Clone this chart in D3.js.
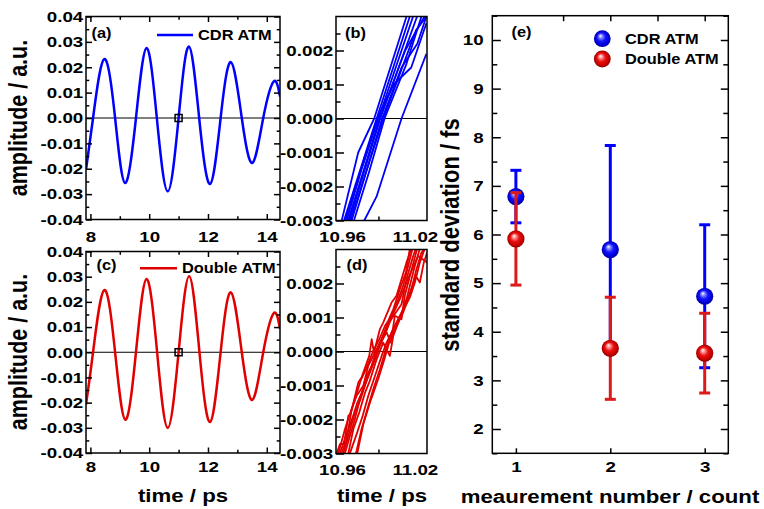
<!DOCTYPE html>
<html>
<head>
  <meta charset="utf-8">
  <title>ATM timing stability</title>
  <script src="https://d3js.org/d3.v7.min.js"></script>
  <style>
    body { margin: 0; background: #fff; }
    svg text { font-family: "Liberation Sans", Arial, sans-serif; font-weight: bold; fill: #000; }
  </style>
</head>
<body>
  <div id="chart"></div>
  <script>
    // ---- values ----
    // (a) CDR ATM waveform: [time / ps, amplitude]
    const cdrWave = [[7.85,-0.0204],[8.09,0],[8.47,0.0232],[8.84,0],[9.18,-0.0256],[9.55,0],[9.91,0.0276],
      [10.26,0],[10.63,-0.0289],[11.0,0],[11.35,0.0282],[11.70,0],[12.07,-0.026],[12.43,0],[12.78,0.022],
      [13.15,0],[13.51,-0.0177],[13.88,0],[14.24,0.0144],[14.45,0.0085]];
    // (c) Double ATM waveform
    const dblWave = [[7.85,-0.0208],[8.09,0],[8.47,0.0247],[8.84,0],[9.19,-0.0268],[9.55,0],[9.91,0.0291],
      [10.27,0],[10.63,-0.030],[11.0,0],[11.36,0.0302],[11.71,0],[12.07,-0.0277],[12.43,0],[12.78,0.0238],
      [13.15,0],[13.51,-0.0189],[13.88,0],[14.24,0.0155],[14.45,0.0093]];

    // (b) zoom on the zero crossing, CDR ATM, one array per shot
    const cdrZoom = [
      [[10.9597,-0.0030],[10.9733,-0.0010],[10.9865,0],[11.0131,0.0030]],
      [[10.9616,-0.0030],[10.9885,0],[11.0158,0.0030]],
      [[10.9638,-0.0030],[10.9760,-0.0015],[10.9900,0],[11.0185,0.0030]],
      [[10.9660,-0.0030],[10.9915,0],[11.0218,0.0030]],
      [[10.9679,-0.0030],[10.9930,0],[11.0090,0.0015],[11.0220,0.0022],[11.0295,0.0030]],
      [[10.9698,-0.0030],[10.9820,-0.0016],[10.9950,0],[11.0130,0.0016],[11.0254,0.0030]],
      [[10.9625,-0.0030],[10.9890,0],[11.0025,0.0010],[11.0170,0.0015],[11.0295,0.0028]],
      [[10.9650,-0.0030],[10.9910,0],[11.0120,0.0020],[11.0295,0.0031]],
      [[10.9670,-0.0030],[10.9940,0],[11.0210,0.0026],[11.0295,0.0030]],
      [[10.9783,-0.0030],[10.9884,-0.0023],[11.0090,0],[11.0295,0.0019]]
    ];

    // (d) zoom on the zero crossing, Double ATM
    const dblZoom = [
      [[10.9556,-0.00299],[10.9583,-0.00272],[10.9616,-0.00272],[10.9652,-0.00189],[10.9671,-0.00184],[10.9734,-0.00091],
       [10.9761,-0.00076],[10.9824,-0.00013],[10.9844,0.00036],[10.9863,-0.00003],[10.9912,0.00066],[10.9939,0.00085],
       [11.0008,0.00144],[11.0049,0.00164],[11.0131,0.00262],[11.0172,0.00303]],
      [[10.9570,-0.00299],[10.9624,-0.00228],[10.9660,-0.00189],[10.9707,-0.00140],[10.9753,-0.00086],[10.9797,-0.00052],
       [10.9857,0.00002],[10.9907,0.00036],[10.9953,0.00075],[10.9980,0.00090],[11.0022,0.00124],[11.0076,0.00183],
       [11.0126,0.00232],[11.0159,0.00303]],
      [[10.9597,-0.00299],[10.9638,-0.00258],[10.9679,-0.00170],[10.9720,-0.00130],[10.9775,-0.00101],[10.9816,-0.00042],
       [10.9885,0.00007],[10.9939,0.00046],[10.9988,0.00085],[11.0035,0.00110],[11.0090,0.00139],[11.0131,0.00213],
       [11.0186,0.00281],[11.0208,0.00303]],
      [[10.9624,-0.00299],[10.9665,-0.00248],[10.9698,-0.00209],[10.9748,-0.00140],[10.9802,-0.00072],[10.9844,-0.00042],
       [10.9912,0.00026],[10.9967,0.00056],[11.0002,0.00026],[11.0035,0.00105],[11.0090,0.00095],[11.0117,0.00164],
       [11.0159,0.00222],[11.0219,0.00303]],
      [[10.9652,-0.00299],[10.9693,-0.00228],[10.9742,-0.00179],[10.9789,-0.00121],[10.9824,-0.00091],[10.9885,-0.00023],
       [10.9939,0.00026],[10.9994,-0.00013],[11.0022,0.00046],[11.0063,0.00085],[11.0131,0.00154],[11.0200,0.00252],
       [11.0241,0.00303]],
      [[10.9665,-0.00299],[10.9720,-0.00243],[10.9770,-0.00189],[10.9816,-0.00130],[10.9871,-0.00072],[10.9926,-0.00013],
       [10.9967,0.00026],[11.0022,0.00066],[11.0076,0.00105],[11.0117,0.00134],[11.0172,0.00183],[11.0213,0.00242],
       [11.0254,0.00291],[11.0282,0.00303]],
      [[10.9715,-0.00299],[10.9761,-0.00228],[10.9808,-0.00170],[10.9857,-0.00111],[10.9912,-0.00052],[10.9953,-0.00003],
       [11.0008,0.00056],[11.0063,0.00095],[11.0109,0.00124],[11.0159,0.00159],[11.0200,0.00203],[11.0241,0.00262],
       [11.0282,0.00303]],
      [[10.9726,-0.00299],[10.9775,-0.00214],[10.9830,-0.00150],[10.9898,-0.00081],[10.9945,-0.00027],[10.9988,0.00026],
       [11.0049,0.00075],[11.0104,0.00115],[11.0159,0.00173],[11.0208,0.00222],[11.0241,0.00203],[11.0274,0.00262],
       [11.0301,0.00291]],
      [[10.9611,-0.00299],[10.9660,-0.00238],[10.9707,-0.00179],[10.9753,-0.00140],[10.9797,-0.00091],[10.9835,-0.00052],
       [10.9879,-0.00003],[10.9926,0.00036],[10.9972,0.00080],[11.0016,0.00115],[11.0063,0.00154],[11.0104,0.00193],
       [11.0145,0.00252],[11.0181,0.00303]],
      [[10.9583,-0.00299],[10.9633,-0.00248],[10.9682,-0.00199],[10.9726,-0.00150],[10.9775,-0.00111],[10.9824,-0.00067],
       [10.9868,-0.00027],[10.9912,0.00017],[10.9961,0.00056],[11.0008,0.00100],[11.0076,0.00154],[11.0153,0.00222],
       [11.0227,0.00281],[11.0301,0.00262]]
    ];

    // (e) standard deviation per measurement
    const counts = [1, 2, 3];
    const cdrStd = [6.78, 5.69, 4.73];
    const cdrErr = [0.54, 2.14, 1.47];
    const dblStd = [5.91, 3.66, 3.56];
    const dblErr = [0.95, 1.05, 0.82];

    // tick values
    const timeTicks = [8, 10, 12, 14];
    const timeMinor = [9, 11, 13];
    const ampTicks = [-0.04, -0.03, -0.02, -0.01, 0, 0.01, 0.02, 0.03, 0.04];
    const ampMinor = [-0.035, -0.025, -0.015, -0.005, 0.005, 0.015, 0.025, 0.035];
    const zoomTimeLabels = [10.96, 11.02];
    const zoomTimeTicks = [10.99];
    const zoomAmpTicks = [-0.003, -0.002, -0.001, 0, 0.001, 0.002];
    const zoomAmpMinor = [-0.0025, -0.0015, -0.0005, 0.0005, 0.0015, 0.0025];
    const stdTicks = [2, 3, 4, 5, 6, 7, 8, 9, 10];
    const stdMinor = [1.5, 2.5, 3.5, 4.5, 5.5, 6.5, 7.5, 8.5, 9.5, 10.5];
    const countTopTicks = [1.5, 2, 2.5, 3];

    const BLUE = "#0000ff", RED = "#e00000";
    const SX = 1.17;   // the figure's lettering is slightly wide
    const TSX = 1.25;  // tick labels a bit more so

    const svg = d3.select("#chart").append("svg")
      .attr("width", 764)
      .attr("height", 509);
    const defs = svg.append("defs");

    function makePanel(id, left, right, top, bottom, xDom, yDom) {
      const x = d3.scaleLinear().domain(xDom).range([left, right]);
      const y = d3.scaleLinear().domain(yDom).range([bottom, top]);
      defs.append("clipPath").attr("id", "clip-" + id)
        .append("rect")
        .attr("x", left).attr("y", top)
        .attr("width", right - left).attr("height", bottom - top);
      return { id, x, y, left, right, top, bottom };
    }

    // inward ticks, optional labels
    function ticks(p, side, values, size, fmt, pad) {
      const make = { left: d3.axisLeft, right: d3.axisRight, top: d3.axisTop, bottom: d3.axisBottom }[side];
      const vertical = side === "left" || side === "right";
      const pos = { left: [p.left, 0], right: [p.right, 0], top: [0, p.top], bottom: [0, p.bottom] }[side];
      const g = svg.append("g")
        .attr("transform", `translate(${pos[0]},${pos[1]})`)
        .call(make(vertical ? p.y : p.x)
          .tickValues(values)
          .tickSizeInner(-size)
          .tickSizeOuter(0)
          .tickPadding(pad || 0)
          .tickFormat(fmt || ""));
      g.select(".domain").remove();
      g.selectAll("line").attr("stroke", "#000").attr("stroke-width", 1.5);
      g.selectAll("text")
        .attr("font-size", 15)
        .attr("transform", `scale(${TSX},1)`);
      return g;
    }

    function label(x, y, str, size, anchor, rotate) {
      return svg.append("text")
        .attr("transform", `translate(${x},${y}) scale(${SX},1)` + (rotate ? " rotate(-90)" : ""))
        .attr("font-size", size)
        .attr("text-anchor", anchor || "start")
        .text(str);
    }

    function frame(p) {
      svg.append("rect")
        .attr("x", p.left).attr("y", p.top)
        .attr("width", p.right - p.left).attr("height", p.bottom - p.top)
        .attr("fill", "none").attr("stroke", "#000").attr("stroke-width", 1.5);
    }

    function zeroLine(p) {
      svg.append("line")
        .attr("x1", p.left).attr("x2", p.right)
        .attr("y1", p.y(0)).attr("y2", p.y(0))
        .attr("stroke", "#000").attr("stroke-width", 1.2);
    }

    const minus = f => d => f(d).replace("−", "-");

    // ---------- panels (a) and (c): full waveforms ----------
    const pa = makePanel("a", 86, 280, 16.5, 219.5, [7.85, 14.45], [-0.04, 0.04]);
    const pc = makePanel("c", 86, 280, 251.5, 453, [7.85, 14.45], [-0.04, 0.04]);

    [[pa, cdrWave, BLUE], [pc, dblWave, RED]].forEach(([p, data, col]) => {
      zeroLine(p);
      const line = d3.line().x(d => p.x(d[0])).y(d => p.y(d[1])).curve(d3.curveNatural);
      svg.append("path")
        .datum(data)
        .attr("clip-path", `url(#clip-${p.id})`)
        .attr("fill", "none")
        .attr("stroke", col)
        .attr("stroke-width", 2.5)
        .attr("d", line);
      // marker on the analysed zero crossing
      svg.append("rect")
        .attr("x", p.x(11.0) - 3.5).attr("y", p.y(0) - 3.5)
        .attr("width", 7).attr("height", 7)
        .attr("fill", "none").attr("stroke", "#000").attr("stroke-width", 1.5);
      ticks(p, "left", ampTicks, 6, minus(d3.format(".2f")), 2.2);
      ticks(p, "left", ampMinor, 3.3);
      ticks(p, "right", ampTicks, 6);
      ticks(p, "right", ampMinor, 3.3);
      ticks(p, "top", timeTicks, 5.5);
      ticks(p, "top", timeMinor, 3.3);
      ticks(p, "bottom", timeTicks, 5.5, d3.format("d"), p === pa ? 11.5 : 8);
      ticks(p, "bottom", timeMinor, 3.3);
      frame(p);
    });

    // ---------- panels (b) and (d): zoom on the crossing ----------
    const pb = makePanel("b", 336, 427, 16.5, 220.5, [10.955, 11.030], [-0.003, 0.003]);
    const pd = makePanel("d", 336, 427, 249.5, 453.5, [10.955, 11.030], [-0.003, 0.003]);

    [[pb, cdrZoom, BLUE], [pd, dblZoom, RED]].forEach(([p, shots, col]) => {
      zeroLine(p);
      const line = d3.line().x(d => p.x(d[0])).y(d => p.y(d[1]));
      svg.append("g")
        .attr("clip-path", `url(#clip-${p.id})`)
        .selectAll("path")
        .data(shots)
        .join("path")
        .attr("fill", "none")
        .attr("stroke", col)
        .attr("stroke-width", 1.8)
        .attr("stroke-linejoin", "round")
        .attr("d", line);
      ticks(p, "left", zoomAmpTicks, 8, minus(d3.format(".3f")), 2.2);
      ticks(p, "left", zoomAmpMinor, 4.5);
      ticks(p, "bottom", zoomTimeTicks, 4);
      ticks(p, "bottom", zoomTimeLabels, 0, d3.format(".2f"), 10.5);
      frame(p);
    });

    // ---------- panel (e): standard deviation ----------
    const pe = makePanel("e", 492.3, 728.3, 15.7, 453.3, [0.75, 3.25], [1.5, 10.5]);

    const grad = (id, c0, c1, c2, c3) => {
      const g = defs.append("radialGradient").attr("id", id)
        .attr("cx", "50%").attr("cy", "50%").attr("r", "50%")
        .attr("fx", "38%").attr("fy", "32%");
      [[0, "#ffffff"], [0.2, c0], [0.5, c1], [0.82, c2], [1, c3]].forEach(([o, c]) =>
        g.append("stop").attr("offset", o).attr("stop-color", c));
    };
    grad("ball-blue", "#8f94ff", "#1616ff", "#0000d8", "#00009a");
    grad("ball-red", "#ff9b9b", "#ea1212", "#c80000", "#8c0000");

    const series = [
      { name: "CDR ATM", vals: cdrStd, errs: cdrErr, col: BLUE, ball: "ball-blue" },
      { name: "Double ATM", vals: dblStd, errs: dblErr, col: "#dd1a1a", ball: "ball-red" }
    ];

    series.forEach(s => {
      const g = svg.append("g");
      counts.forEach((c, i) => {
        const cx = pe.x(c);
        const hi = pe.y(s.vals[i] + s.errs[i]);
        const lo = pe.y(s.vals[i] - s.errs[i]);
        g.append("line").attr("x1", cx).attr("x2", cx).attr("y1", hi).attr("y2", lo)
          .attr("stroke", s.col).attr("stroke-width", 3);
        [hi, lo].forEach(yy => g.append("line")
          .attr("x1", cx - 5.5).attr("x2", cx + 5.5).attr("y1", yy).attr("y2", yy)
          .attr("stroke", s.col).attr("stroke-width", 3));
      });
      g.selectAll("circle")
        .data(counts)
        .join("circle")
        .attr("cx", d => pe.x(d))
        .attr("cy", (d, i) => pe.y(s.vals[i]))
        .attr("r", 8.6)
        .attr("fill", `url(#${s.ball})`);
    });

    ticks(pe, "left", stdTicks, 8.5, d3.format("d"), 7);
    ticks(pe, "left", stdMinor, 5);
    ticks(pe, "right", stdTicks, 7.5);
    ticks(pe, "right", stdMinor, 5);
    ticks(pe, "bottom", counts, 5, d3.format("d"), 8);
    ticks(pe, "top", countTopTicks, 5.5);
    frame(pe);

    // legend (e)
    series.forEach((s, i) => {
      const ly = 38.7 + i * 20.3;
      svg.append("circle").attr("cx", 602.3).attr("cy", ly).attr("r", 8.4)
        .attr("fill", `url(#${s.ball})`);
      label(625, ly + 5.2, s.name, 14);
    });

    // legends (a), (c)
    svg.append("line").attr("x1", 157).attr("x2", 193).attr("y1", 35).attr("y2", 35)
      .attr("stroke", BLUE).attr("stroke-width", 2.5);
    label(198, 40, "CDR ATM", 14);
    svg.append("line").attr("x1", 140).attr("x2", 177).attr("y1", 268.3).attr("y2", 268.3)
      .attr("stroke", RED).attr("stroke-width", 2.5);
    label(182, 273.3, "Double ATM", 14);

    // panel letters
    label(91.5, 37.5, "(a)", 14);
    label(345, 37.5, "(b)", 14);
    label(96.5, 270, "(c)", 14);
    label(346.5, 270, "(d)", 14);
    label(511.5, 36.5, "(e)", 14);

    // axis titles
    label(27, 118, "amplitude / a.u.", 21.5, "middle", true);
    label(27, 352, "amplitude / a.u.", 21.5, "middle", true);
    label(183, 501.5, "time / ps", 19, "middle");
    label(382, 501.5, "time / ps", 19, "middle");
    label(458.5, 235, "standard deviation / fs", 22, "middle", true);
    label(610, 503, "meaurement number / count", 19, "middle");
  </script>
</body>
</html>
